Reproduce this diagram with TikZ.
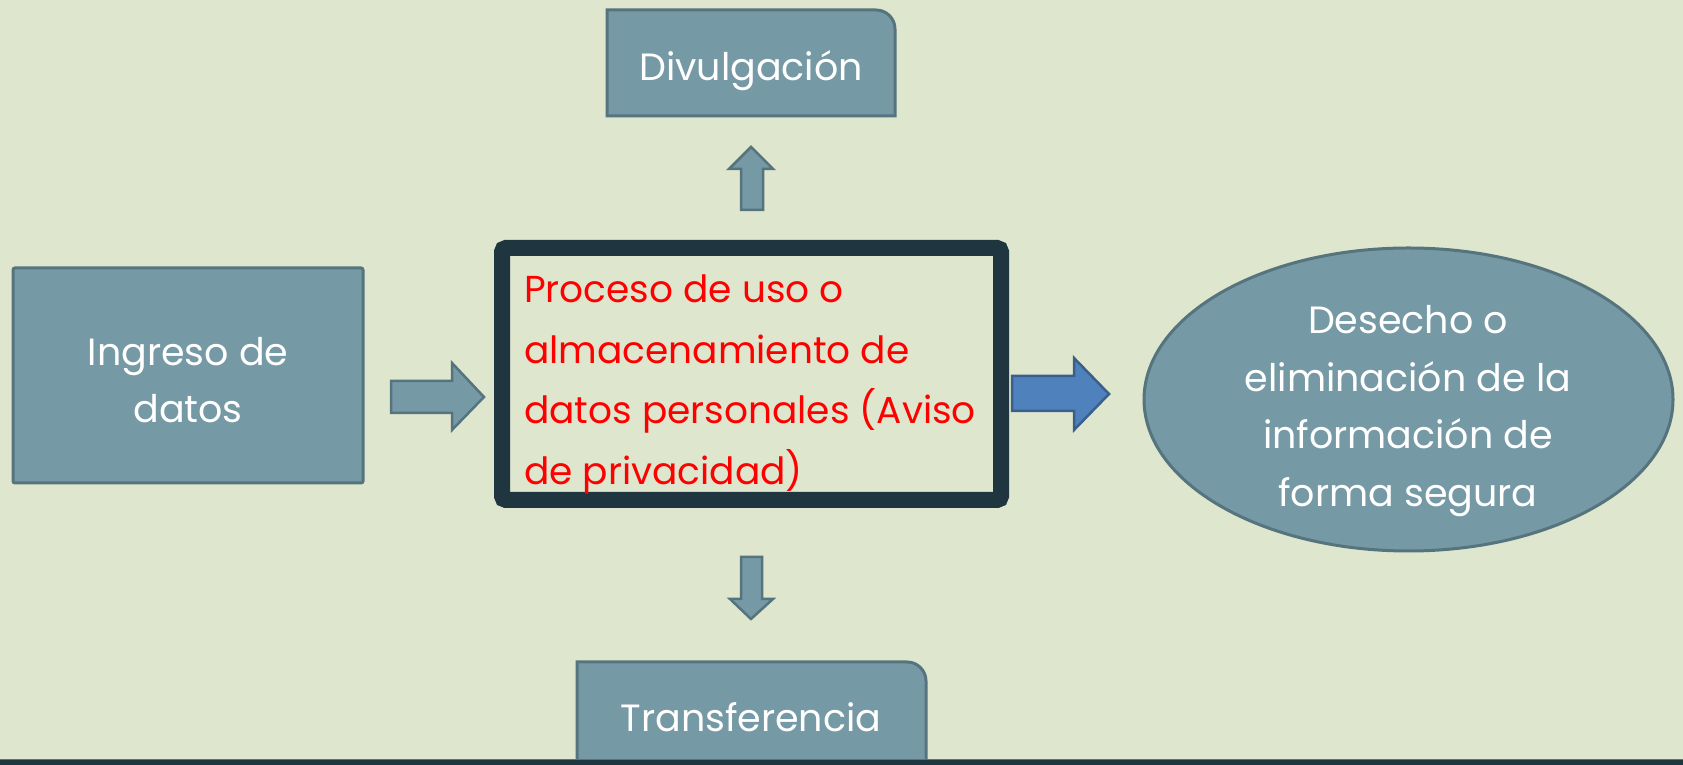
\documentclass[tikz,border=0pt]{standalone}
\usepackage{fontspec}
\setmainfont{Poppins}
\definecolor{bg}{HTML}{DFE6CE}
\definecolor{boxfill}{HTML}{7599A5}
\definecolor{boxline}{HTML}{56747E}
\definecolor{darkline}{HTML}{1F3540}
\definecolor{bluefill}{HTML}{4F81BD}
\definecolor{blueline}{HTML}{3A5F8B}
\definecolor{redtext}{HTML}{FF0000}
\tikzset{
  shapebox/.style={fill=boxfill, draw=boxline, line width=3pt},
  blockarrow/.style={fill=boxfill, draw=boxline, line width=2.5pt, line join=miter},
  bluearrow/.style={fill=bluefill, draw=blueline, line width=2.5pt, line join=miter},
  whitetext/.style={text=white, align=center, inner sep=0pt, font=\fontsize{38}{57.5}\selectfont},
  redlabel/.style={text=redtext, align=left, inner sep=0pt, font=\fontsize{37.5}{60.5}\selectfont}
}
\begin{document}
\begin{tikzpicture}[x=1pt,y=1pt]
\useasboundingbox (0,0) rectangle (1683,765);
\fill[bg] (0,0) rectangle (1683,765);
% Divulgacion box
\path[shapebox] (607,649) -- (607,755) -- (876,755) arc[start angle=90,end angle=0,radius=19] -- (895,649) -- cycle;
\node[whitetext] (div) at (751,694) {Divulgación};
% up arrow
\path[blockarrow] (741,555) -- (741,596) -- (729,596) -- (751,618) -- (773,596) -- (763,596) -- (763,555) -- cycle;
% Ingreso box
\path[shapebox, rounded corners=2pt] (13,282) rectangle (363,497);
\node[whitetext] (ing) at (188,385) {Ingreso de\\datos};
% right arrow 1
\path[blockarrow] (391,352) -- (452,352) -- (452,335) -- (484,368) -- (452,402) -- (452,384) -- (391,384) -- cycle;
% central box
\path[draw=darkline, fill=bg, line width=16pt, rounded corners=4pt] (502,265) rectangle (1001,517);
\node[redlabel, anchor=base west] (proc) at (524,280.5) {Proceso de uso o\\almacenamiento de\\datos personales (Aviso\\de privacidad)};
% blue arrow
\path[bluearrow] (1012,354) -- (1074,354) -- (1074,335) -- (1109,371) -- (1074,407) -- (1074,389) -- (1012,389) -- cycle;
% ellipse
\path[shapebox] (1408.5,365.5) ellipse [x radius=264.5, y radius=151.5];
\node[whitetext] (des) at (1408,354) {Desecho o\\eliminación de la\\información de\\forma segura};
% down arrow
\path[blockarrow] (741,208) -- (741,166) -- (730,166) -- (751,146) -- (773,166) -- (762,166) -- (762,208) -- cycle;
% Transferencia box
\path[shapebox] (577,-10) -- (577,103) -- (907,103) arc[start angle=90,end angle=0,radius=19] -- (926,-10) -- cycle;
\node[whitetext] (tra) at (751,48) {Transferencia};
% bottom bar
\fill[darkline] (0,0) rectangle (1683,5);
\fill[boxline] (0,5) rectangle (1683,6);
\end{tikzpicture}
\end{document}
